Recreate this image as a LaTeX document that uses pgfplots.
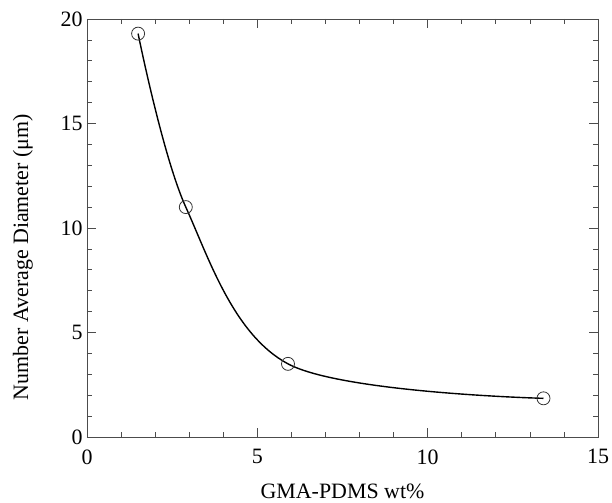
\documentclass[border=0pt]{standalone}
\usepackage{fontspec}
\setmainfont{Liberation Serif}
\usepackage{pgfplots}
\pgfplotsset{compat=1.18}
\usetikzlibrary{calc}

\begin{document}
\begin{tikzpicture}[font=\fontsize{22}{26}\selectfont]
\begin{axis}[
  name=ax,
  scale only axis, width=511bp, height=418bp,
  xmin=0, xmax=15, ymin=0, ymax=20,
  xtick={0,5,10,15}, ytick={0,5,10,15,20},
  minor x tick num=4, minor y tick num=4,
  tick align=inside,
  major tick length=9bp, minor tick length=5bp,
  axis line style={black!70, line width=0.7pt},
  tick style={black!70, line width=0.7pt},
  /pgf/number format/assume math mode=true,
  xticklabel style={yshift=-9bp},
  yticklabel style={xshift=-1bp},
  xlabel={GMA-PDMS wt\%},
  ylabel={Number Average Diameter (μm)},
  xlabel style={at={(axis description cs:0.5,0)}, anchor=base, yshift=-61bp},
  ylabel style={at={(axis description cs:0,0.43)}, anchor=center, yshift=64bp},
]
% curve through the measured points
\addplot[black, line width=1.4pt, smooth, tension=0.55] coordinates {
  (1.5,19.3) (2.9,11.0) (5.9,3.5) (13.4,1.85)};
% measured points
\addplot[only marks, mark=o, mark size=6.5bp,
  mark options={fill=white, draw=black!80, line width=0.8pt}]
  coordinates {(1.5,19.3) (2.9,11.0) (5.9,3.5) (13.4,1.85)};
\end{axis}
\pgfresetboundingbox
\path ($(ax.south west)+(-87bp,-66bp)$) rectangle ($(ax.south west)+(525bp,437bp)$);
\end{tikzpicture}
\end{document}
